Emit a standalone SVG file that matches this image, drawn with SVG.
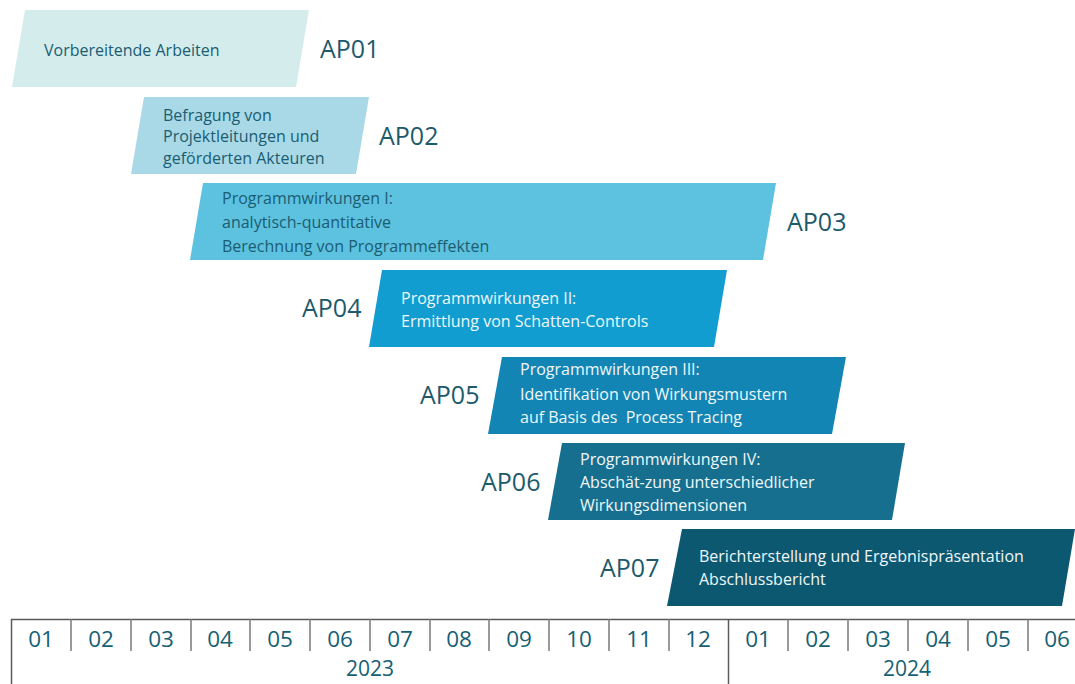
<svg xmlns="http://www.w3.org/2000/svg" width="1075" height="684" viewBox="0 0 1075 684">
<style>
.t{font-family:"Open Sans","Noto Sans",sans-serif;font-size:16px}
.dk{fill:#1a5d72}
.lt{fill:#eef7fa}
.ap{font-family:"Open Sans","Noto Sans",sans-serif;font-size:25px;fill:#1c5a6c}
.m{font-family:"Open Sans","Noto Sans",sans-serif;font-size:22.5px;fill:#165f74;text-anchor:middle}
.y{font-size:21px}
.ln{stroke:#5a5a5a;stroke-width:1.5;fill:none}
.sep{stroke:#7a7a7a;stroke-width:1.5;fill:none}
</style>
<rect width="1075" height="684" fill="#ffffff"/>
<g id="ap01">
<polygon points="25,10 309,10 296,87 12,87" fill="#d4ecec"/>
<text class="t dk" x="44" y="56">Vorbereitende Arbeiten</text>
<text class="ap" x="320" y="58">AP01</text>
</g>
<g id="ap02">
<polygon points="144,97 369,97 356,174 131,174" fill="#a9d9e7"/>
<text class="t dk" x="163" y="121">Befragung von</text>
<text class="t dk" x="163" y="142">Projektleitungen und</text>
<text class="t dk" x="163" y="164">geförderten Akteuren</text>
<text class="ap" x="379" y="145">AP02</text>
</g>
<g id="ap03">
<polygon points="203,183 776,183 763,260 190,260" fill="#5dc2e0"/>
<text class="t dk" x="222" y="204">Programmwirkungen I:</text>
<text class="t dk" x="222" y="228">analytisch-quantitative</text>
<text class="t dk" x="222" y="252">Berechnung von Programmeffekten</text>
<text class="ap" x="787" y="231">AP03</text>
</g>
<g id="ap04">
<polygon points="382,270 727,270 714,347 369,347" fill="#119dd0"/>
<text class="t lt" x="401" y="304">Programmwirkungen II:</text>
<text class="t lt" x="401" y="327">Ermittlung von Schatten-Controls</text>
<text class="ap" x="302" y="317">AP04</text>
</g>
<g id="ap05">
<polygon points="502,357 846,357 832,434 488,434" fill="#1385b4"/>
<text class="t lt" x="520" y="375">Programmwirkungen III:</text>
<text class="t lt" x="520" y="400">Identifikation von Wirkungsmustern</text>
<text class="t lt" x="520" y="423" xml:space="preserve">auf Basis des  Process Tracing</text>
<text class="ap" x="420" y="404">AP05</text>
</g>
<g id="ap06">
<polygon points="562,443 905,443 892,520 548,520" fill="#166f8f"/>
<text class="t lt" x="580" y="465">Programmwirkungen IV:</text>
<text class="t lt" x="580" y="488">Abschät-zung unterschiedlicher</text>
<text class="t lt" x="580" y="511">Wirkungsdimensionen</text>
<text class="ap" x="481" y="491">AP06</text>
</g>
<g id="ap07">
<polygon points="682,529 1075,529 1062,606 667,606" fill="#0d5871"/>
<text class="t lt" x="699" y="562">Berichterstellung und Ergebnispräsentation</text>
<text class="t lt" x="699" y="585">Abschlussbericht</text>
<text class="ap" x="600" y="577">AP07</text>
</g>
<g id="timeline">
<line class="ln" x1="11" y1="619.5" x2="1075" y2="619.5"/>
<line class="ln" x1="11.5" y1="619" x2="11.5" y2="684"/>
<line class="ln" x1="728.5" y1="619" x2="728.5" y2="684"/>
<path class="sep" d="M71,619V651M131,619V651M191,619V651M250,619V651M310,619V651M370,619V651M430,619V651M489,619V651M549,619V651M609,619V651M669,619V651M788,619V651M848,619V651M908,619V651M968,619V651M1028,619V651"/>
<text class="m" x="41" y="647">01</text>
<text class="m" x="101" y="647">02</text>
<text class="m" x="161" y="647">03</text>
<text class="m" x="220" y="647">04</text>
<text class="m" x="280" y="647">05</text>
<text class="m" x="340" y="647">06</text>
<text class="m" x="400" y="647">07</text>
<text class="m" x="459" y="647">08</text>
<text class="m" x="519" y="647">09</text>
<text class="m" x="579" y="647">10</text>
<text class="m" x="639" y="647">11</text>
<text class="m" x="698" y="647">12</text>
<text class="m" x="758" y="647">01</text>
<text class="m" x="818" y="647">02</text>
<text class="m" x="878" y="647">03</text>
<text class="m" x="938" y="647">04</text>
<text class="m" x="998" y="647">05</text>
<text class="m" x="1057" y="647">06</text>
<text class="m y" x="370" y="676">2023</text>
<text class="m y" x="907" y="676">2024</text>
</g>
</svg>
